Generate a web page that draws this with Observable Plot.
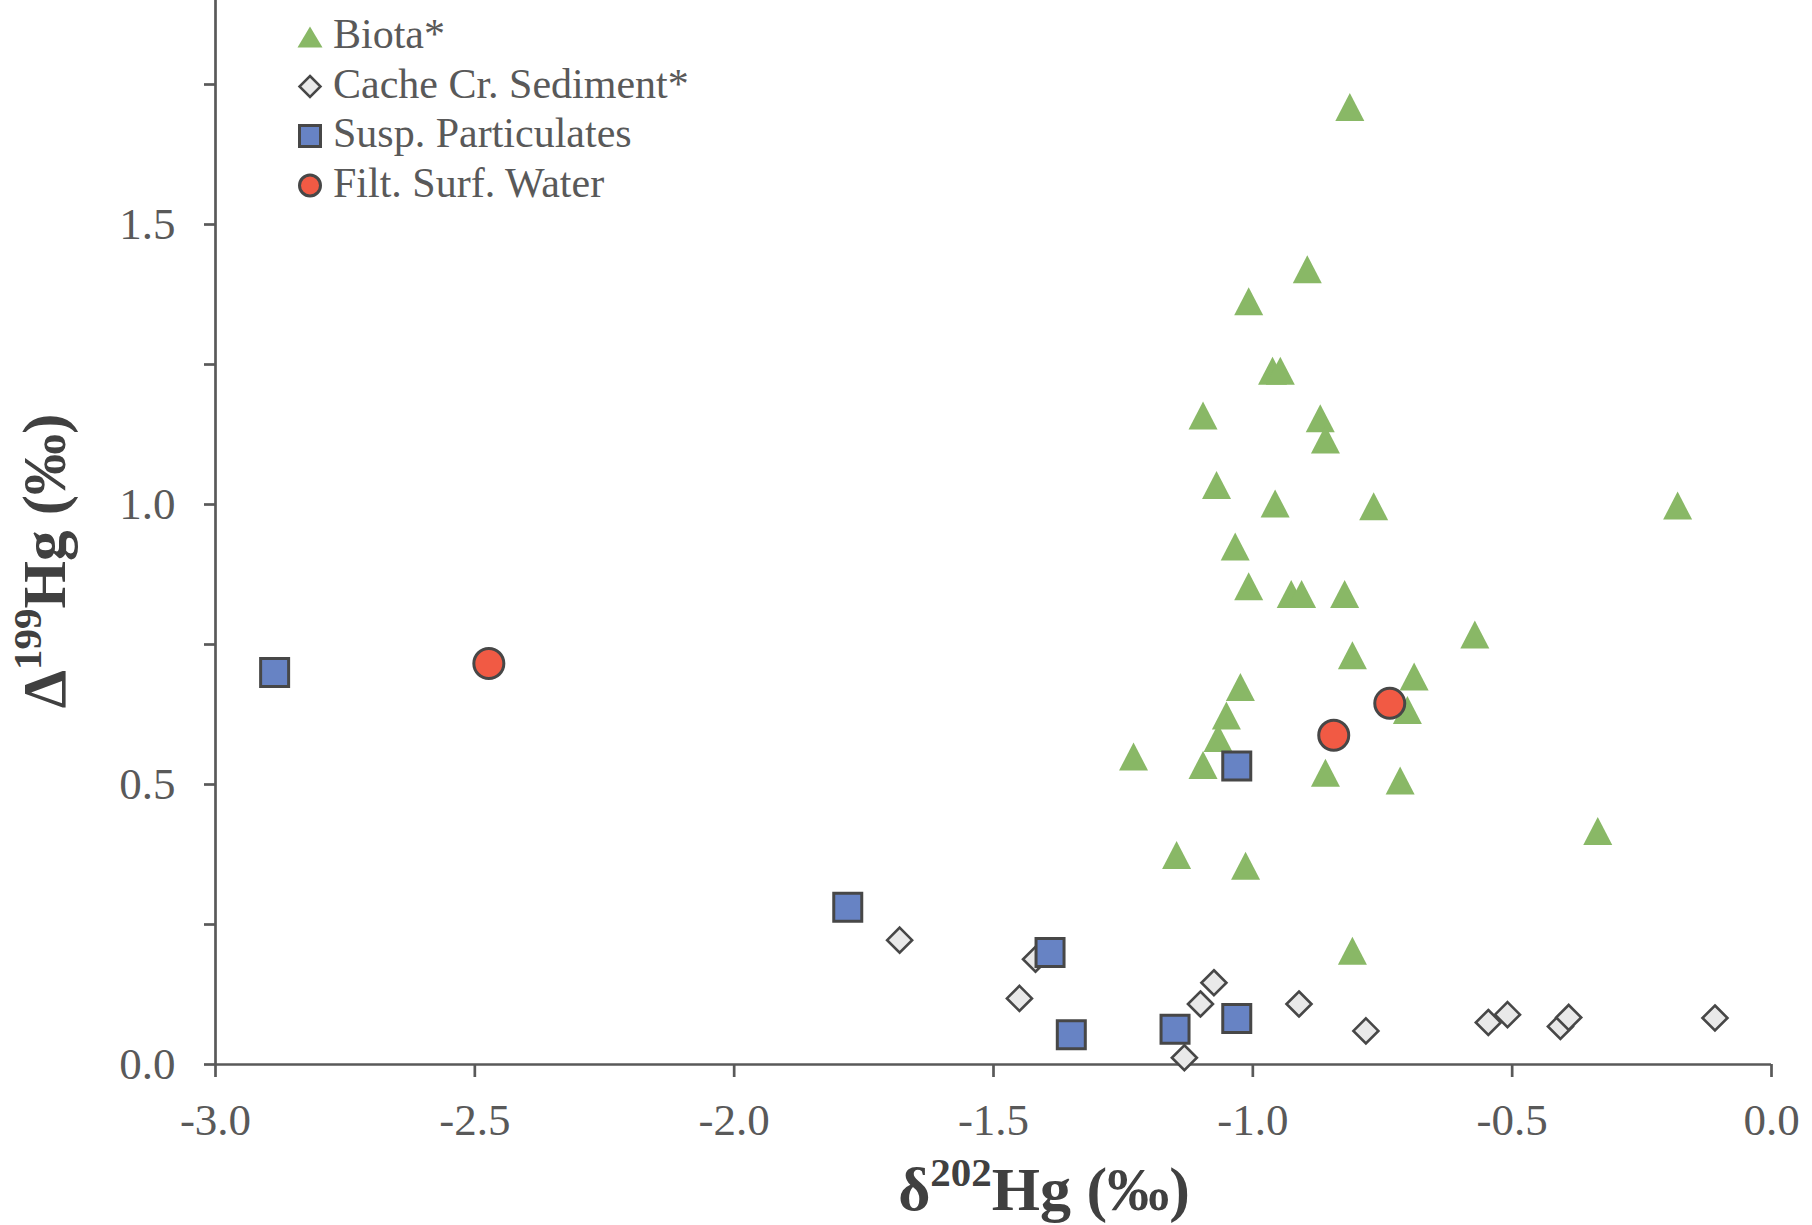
<!DOCTYPE html>
<html>
<head>
<meta charset="utf-8">
<script src="https://cdn.jsdelivr.net/npm/d3@7"></script>
<script src="https://cdn.jsdelivr.net/npm/@observablehq/plot@0.6"></script>
<style>
  html, body { margin: 0; padding: 0; background: #fff; }
  #chart { width: 1812px; height: 1225px; overflow: hidden; }
</style>
</head>
<body>
<div id="chart"></div>
<script>
// ---------- data ----------
const seriesNames = ["Biota*", "Cache Cr. Sediment*", "Susp. Particulates", "Filt. Surf. Water"];

const biotaX = [-0.813, -0.895, -1.008, -0.962, -0.947, -1.096, -0.870, -0.860, -1.070, -0.957, -0.767, -0.181,
                -1.034, -1.008, -0.926, -0.906, -0.823, -0.572, -0.808, -0.689, -1.024, -0.702, -1.051, -1.067,
                -1.230, -1.096, -0.860, -0.716, -0.335, -1.147, -1.014, -0.808];
const biotaY = [1.710, 1.420, 1.363, 1.239, 1.239, 1.159, 1.154, 1.116, 1.035, 1.002, 0.997, 0.998,
                0.925, 0.854, 0.840, 0.840, 0.840, 0.768, 0.731, 0.693, 0.674, 0.633, 0.623, 0.583,
                0.550, 0.535, 0.521, 0.507, 0.417, 0.374, 0.355, 0.203];

const sedX = [-1.681, -1.419, -1.450, -1.075, -1.101, -0.911, -0.782, -1.132, -0.546, -0.509, -0.407, -0.391, -0.109];
const sedY = [0.222, 0.188, 0.118, 0.146, 0.108, 0.108, 0.060, 0.012, 0.075, 0.089, 0.068, 0.084, 0.083];

const suspX = [-2.886, -1.781, -1.391, -1.350, -1.150, -1.031, -1.031];
const suspY = [0.700, 0.281, 0.200, 0.053, 0.063, 0.082, 0.533];

const waterX = [-2.473, -0.844, -0.736];
const waterY = [0.716, 0.588, 0.645];

const xTicks = [-3.0, -2.5, -2.0, -1.5, -1.0, -0.5, 0.0];
const yTicks = [0, 0.25, 0.5, 0.75, 1.0, 1.25, 1.5, 1.75];
const yLabelTicks = [0, 0.5, 1.0, 1.5];

// ---------- styles ----------
const axisColor = "#595959";
const textColor = "#595959";
const titleColor = "#404040";
const green = "#89B866";
const blue = "#6783C4";
const red = "#F15A44";
const greyFill = "#E9E9E9";
const markStroke = "#474747";
const fontFamily = "'Liberation Serif', 'Times New Roman', serif";

// ---------- custom marker symbols (bbox-centred, like Excel) ----------
function triangleSym(w, h) {
  return { draw(ctx) { ctx.moveTo(0, -h / 2); ctx.lineTo(w / 2, h / 2); ctx.lineTo(-w / 2, h / 2); ctx.closePath(); } };
}
function squareSym(s) {
  return { draw(ctx) { ctx.moveTo(-s / 2, -s / 2); ctx.lineTo(s / 2, -s / 2); ctx.lineTo(s / 2, s / 2); ctx.lineTo(-s / 2, s / 2); ctx.closePath(); } };
}
function diamondSym(hw, hh) {
  return { draw(ctx) { ctx.moveTo(0, -hh); ctx.lineTo(hw, 0); ctx.lineTo(0, hh); ctx.lineTo(-hw, 0); ctx.closePath(); } };
}
function circleSym(r) {
  return { draw(ctx) { ctx.moveTo(r, 0); ctx.arc(0, 0, r, 0, 2 * Math.PI); ctx.closePath(); } };
}

const rows = (xs, ys) => xs.map((x, i) => ({ x, y: ys[i] }));

const chart = Plot.plot({
  width: 1812,
  height: 1225,
  marginLeft: 215,
  marginRight: 41,
  marginTop: 0,
  marginBottom: 161,
  x: { domain: [-3, 0] },
  y: { domain: [0, 1.9] },
  style: { fontFamily, fontSize: "45px", color: textColor, background: "#fff", overflow: "visible" },
  marks: [
    Plot.axisX({ ticks: xTicks, tickFormat: d => d.toFixed(1), tickSize: 13, tickPadding: 26,
                 stroke: axisColor, strokeWidth: 2.7, fill: textColor, label: null }),
    Plot.axisY({ ticks: yTicks, tickFormat: d => (yLabelTicks.includes(d) ? d.toFixed(1) : ""),
                 tickSize: 11, tickPadding: 29, stroke: axisColor, strokeWidth: 2.7, fill: textColor, label: null }),
    Plot.ruleX([-3], { stroke: axisColor, strokeWidth: 2.7 }),
    Plot.ruleY([0], { stroke: axisColor, strokeWidth: 2.7 }),
    Plot.dot(rows(biotaX, biotaY), { x: "x", y: "y", r: 10, symbol: triangleSym(29, 28), fill: green, stroke: "none" }),
    Plot.dot(rows(sedX, sedY), { x: "x", y: "y", r: 10, symbol: diamondSym(12.5, 12.5), fill: greyFill, stroke: markStroke, strokeWidth: 2.6 }),
    Plot.dot(rows(suspX, suspY), { x: "x", y: "y", r: 10, symbol: squareSym(28), fill: blue, stroke: markStroke, strokeWidth: 3 }),
    Plot.dot(rows(waterX, waterY), { x: "x", y: "y", r: 10, symbol: circleSym(15), fill: red, stroke: markStroke, strokeWidth: 3 })
  ]
});

document.getElementById("chart").appendChild(chart);

const svg = d3.select(chart);

// ---------- legend (inside plot, top-left) ----------
const legendSyms = [
  { sym: triangleSym(25, 21), fill: green, stroke: "none", sw: 0 },
  { sym: diamondSym(10.5, 10.5), fill: greyFill, stroke: markStroke, sw: 2.5 },
  { sym: squareSym(21), fill: blue, stroke: markStroke, sw: 3 },
  { sym: circleSym(10.5), fill: red, stroke: markStroke, sw: 3 }
];
const lg = svg.append("g").attr("class", "legend").attr("text-anchor", "start");
seriesNames.forEach((name, i) => {
  const cy = 37 + 49.5 * i;
  const s = legendSyms[i];
  lg.append("path")
    .attr("d", d3.symbol().type(s.sym)())
    .attr("transform", `translate(310,${cy})`)
    .attr("fill", s.fill)
    .attr("stroke", s.stroke)
    .attr("stroke-width", s.sw);
  lg.append("text")
    .attr("x", 333)
    .attr("y", cy + 11)
    .attr("text-anchor", "start")
    .attr("font-family", fontFamily)
    .attr("font-size", 42)
    .attr("fill", textColor)
    .text(name);
});

// ---------- axis titles with superscripts ----------
const xt = svg.append("text")
  .attr("x", 1044).attr("y", 1210)
  .attr("text-anchor", "middle")
  .attr("font-family", fontFamily).attr("font-weight", "bold")
  .attr("font-size", 62).attr("fill", titleColor);
xt.append("tspan").text("δ");
xt.append("tspan").attr("dy", -24).attr("font-size", 41).text("202");
xt.append("tspan").attr("dy", 24).text("Hg (‰)");

const yt = svg.append("text")
  .attr("transform", "translate(65,561) rotate(-90)")
  .attr("text-anchor", "middle")
  .attr("font-family", fontFamily).attr("font-weight", "bold")
  .attr("font-size", 61).attr("fill", titleColor);
yt.append("tspan").text("Δ");
yt.append("tspan").attr("dy", -24).attr("font-size", 41).text("199");
yt.append("tspan").attr("dy", 24).text("Hg (‰)");
</script>
</body>
</html>
